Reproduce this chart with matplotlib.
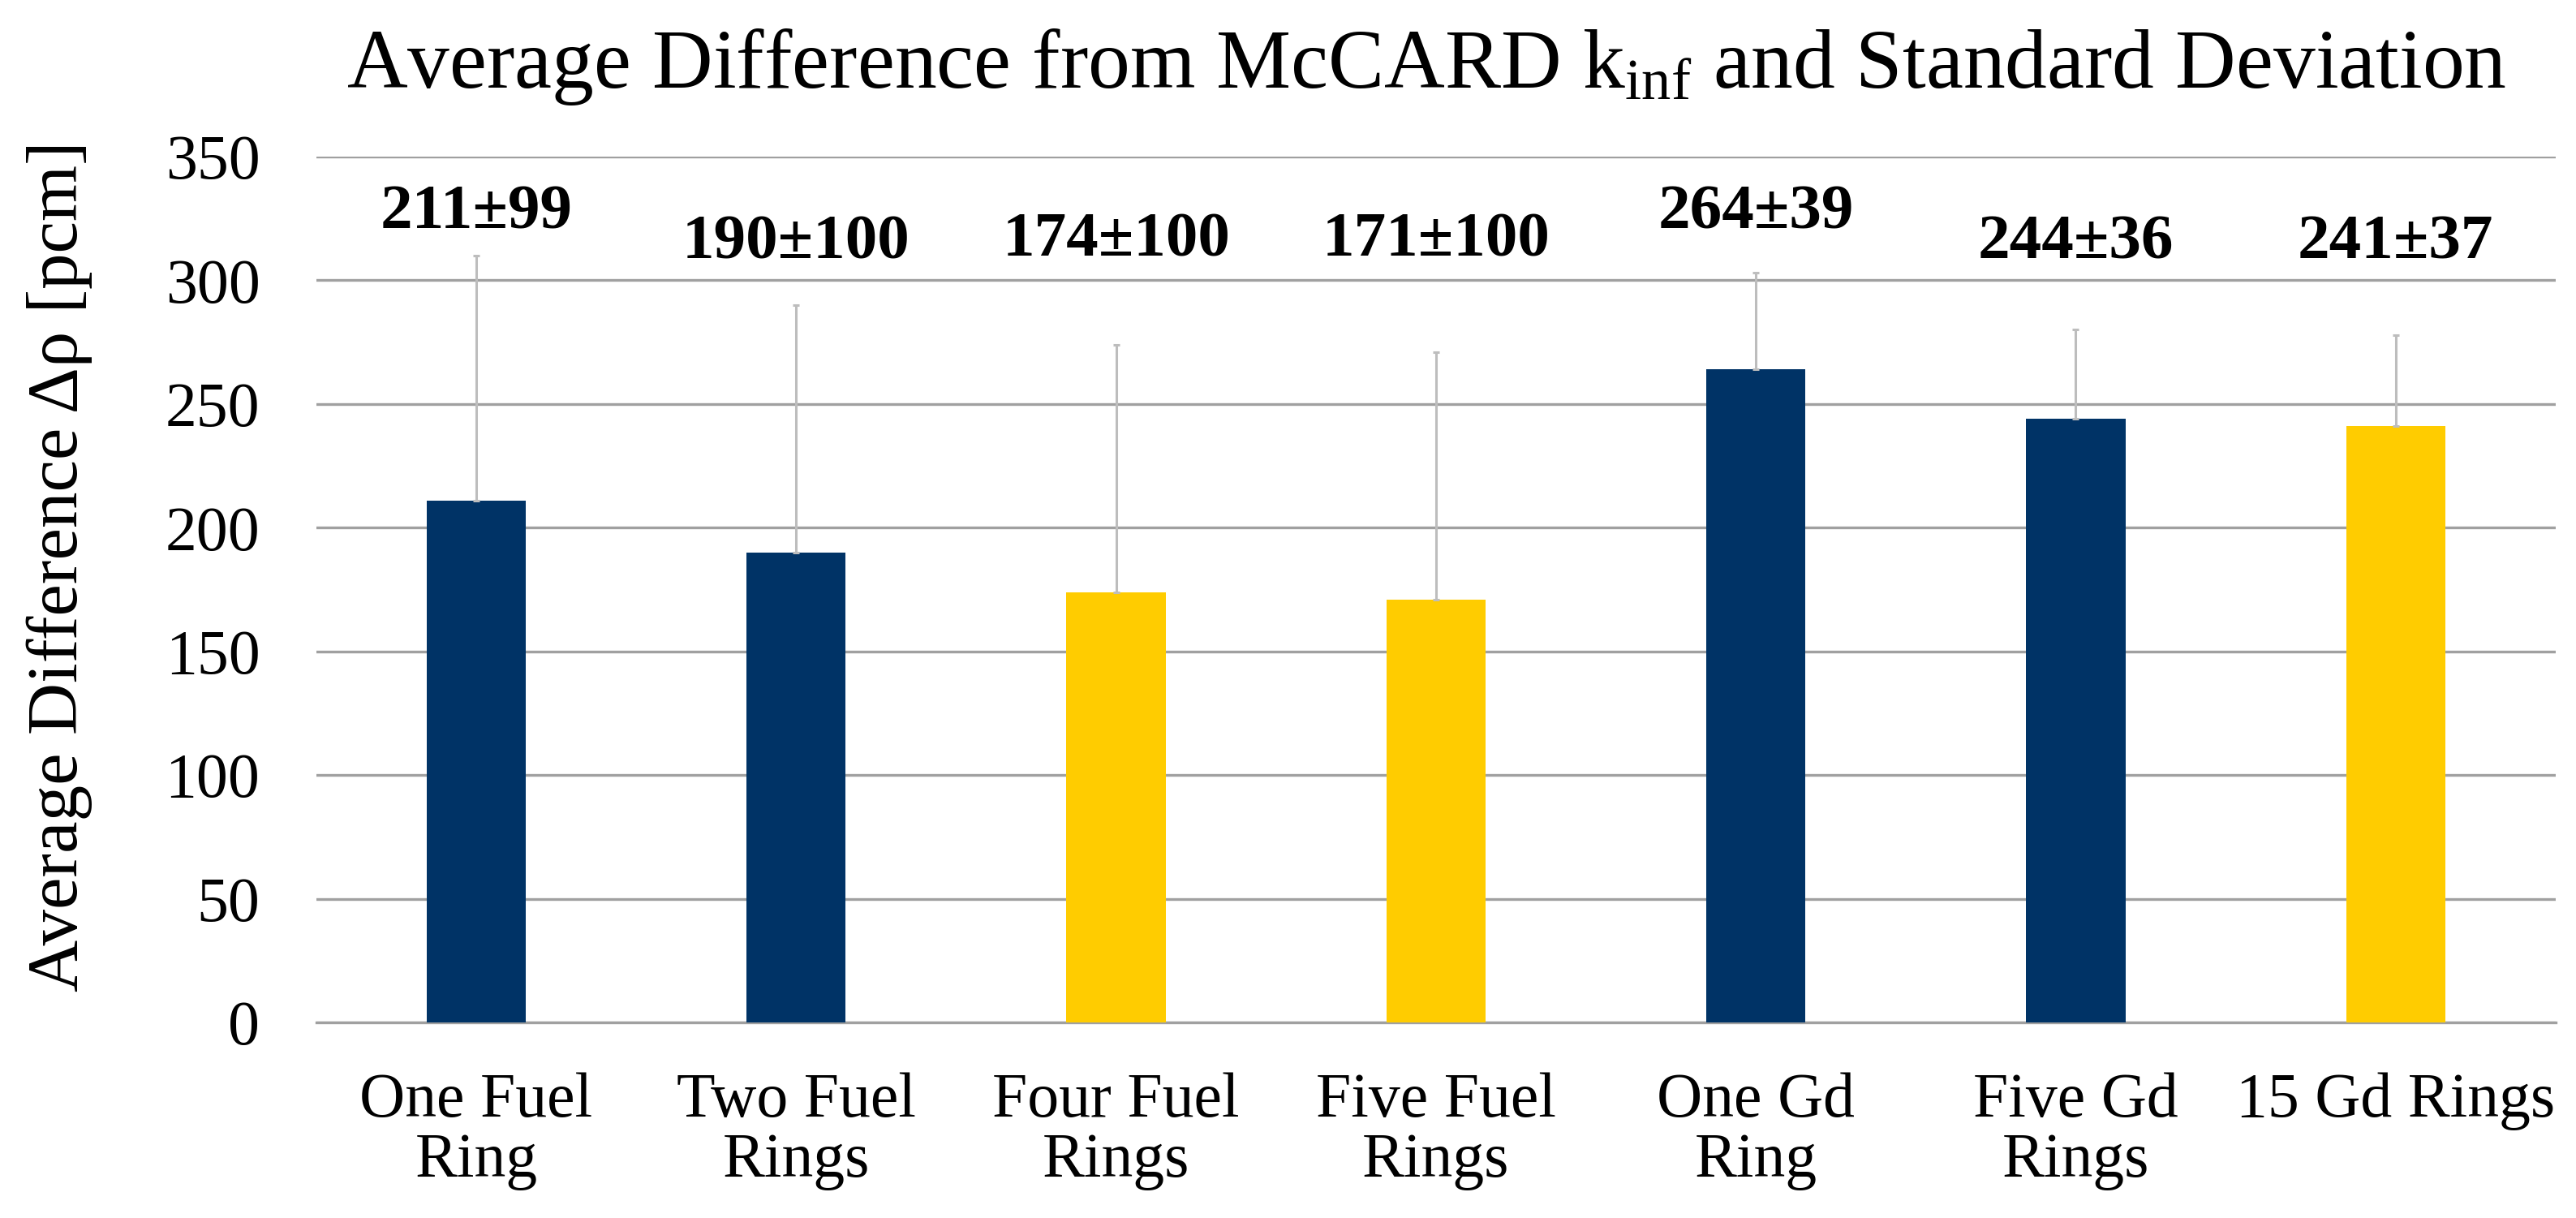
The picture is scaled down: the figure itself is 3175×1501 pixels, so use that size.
import matplotlib
matplotlib.use("Agg")
import matplotlib.pyplot as plt
import numpy as np

categories = ["One Fuel\nRing", "Two Fuel\nRings", "Four Fuel\nRings", "Five Fuel\nRings",
              "One Gd\nRing", "Five Gd\nRings", "15 Gd Rings"]
avg_diff = [211, 190, 174, 171, 264, 244, 241]
std_dev = [99, 100, 100, 100, 39, 36, 37]
bar_colors = ["#003366", "#003366", "#FFCC00", "#FFCC00", "#003366", "#003366", "#FFCC00"]
# heights where the value labels sit (data units)
label_y = [327, 315, 316, 316, 327, 315, 315]

plt.rcParams["font.family"] = ["Liberation Serif", "DejaVu Serif"]
plt.rcParams["mathtext.fontset"] = "custom"
plt.rcParams["mathtext.rm"] = "Liberation Serif"
plt.rcParams["mathtext.it"] = "Liberation Serif:italic"

fig = plt.figure(figsize=(31.75, 15.01), dpi=100)
ax = fig.add_axes([0.1228, 0.1606, 0.8693, 0.7108])

x = np.arange(len(categories))
ax.bar(x, avg_diff, width=0.31, color=bar_colors, zorder=3)
ax.errorbar(x, avg_diff, yerr=[np.zeros(len(std_dev)), std_dev], fmt="none",
            ecolor="#bdbdbd", elinewidth=2.2, capsize=3, capthick=2.2, zorder=4)

for xi, yi, v, s in zip(x, label_y, avg_diff, std_dev):
    ax.text(xi, yi, f"{v}±{s}", ha="center", va="center", fontsize=57,
            fontweight="bold", color="black")

ax.set_xlim(-0.5, len(categories) - 0.5)
ax.set_ylim(0, 350)
ax.set_yticks(range(0, 351, 50))
ax.set_xticks(x)
ax.set_xticklabels(categories, fontsize=56, linespacing=1.05)
ax.tick_params(axis="y", labelsize=56, length=0, pad=50)
ax.tick_params(axis="x", length=0, pad=44)
ax.grid(axis="y", color="#a0a0a0", linewidth=2.4, zorder=0)
for side in ["top", "right", "left"]:
    ax.spines[side].set_visible(False)
ax.spines["bottom"].set_color("#a0a0a0")
ax.spines["bottom"].set_linewidth(2.4)

ax.set_ylabel("Average Difference Δρ [pcm]", fontsize=64)
ax.yaxis.set_label_coords(-0.100, 0.527)
fig.text(0.5537, 1 - 108 / 1501, r"Average Difference from McCARD k$_{\mathrm{inf}}$ and Standard Deviation",
         ha="center", va="baseline", fontsize=74.5)

fig.savefig("out.png", dpi=100)
